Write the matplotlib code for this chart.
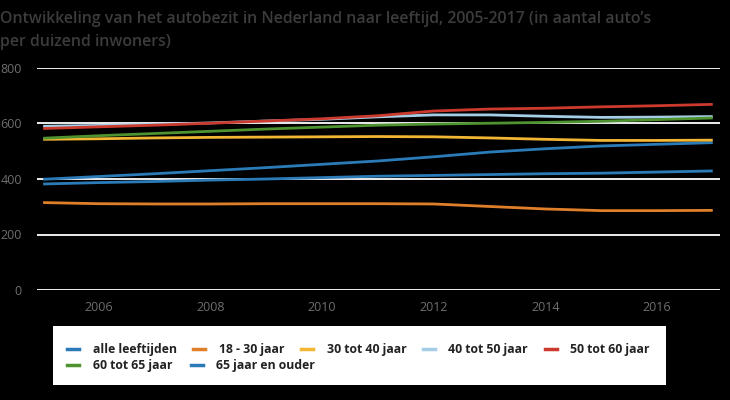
import matplotlib
matplotlib.use("Agg")
import matplotlib.pyplot as plt
from matplotlib.lines import Line2D
from matplotlib.patches import Rectangle

plt.rcParams['font.family'] = ['Open Sans', 'DejaVu Sans']

years = list(range(2005, 2018))
alle = [399, 409, 419, 430, 441, 453, 465, 480, 497, 509, 519, 525, 531]
j18_30 = [315, 311, 310, 310, 311, 311, 311, 310, 301, 292, 286, 286, 287]
j30_40 = [543, 545, 548, 550, 551, 552, 553, 552, 548, 543, 539, 539, 540]
j40_50 = [590, 593, 597, 602, 609, 615, 624, 631, 631, 626, 622, 623, 625]
j50_60 = [582, 588, 594, 601, 609, 617, 628, 645, 652, 655, 660, 664, 669]
j60_65 = [547, 556, 564, 572, 580, 587, 594, 598, 601, 604, 608, 614, 620]
j65plus = [382, 387, 391, 396, 400, 405, 410, 413, 416, 419, 421, 425, 429]

labels = ['alle leeftijden', '18 - 30 jaar', '30 tot 40 jaar', '40 tot 50 jaar',
          '50 tot 60 jaar', '60 tot 65 jaar', '65 jaar en ouder']
colors = ['#2b7bb9', '#e07f2a', '#f2b632', '#a6cde6', '#cc3a2e', '#4e9330', '#2b7bb9']
series = [alle, j18_30, j30_40, j40_50, j50_60, j60_65, j65plus]

fig = plt.figure(figsize=(7.3, 4.0), dpi=100, facecolor='black')
ax = fig.add_axes([37 / 730, 1 - 290 / 400, (720 - 37) / 730, (290 - 68) / 400])
ax.set_facecolor('black')

for vals, col in zip(series, colors):
    ax.plot(years, vals, color=col, lw=2, solid_capstyle='butt', zorder=3)

ax.set_xlim(2004.89, 2017.13)
ax.set_ylim(0, 800)
ax.set_yticks([0, 200, 400, 600, 800])
ax.set_xticks([2006, 2008, 2010, 2012, 2014, 2016])
ax.grid(axis='y', color='white', lw=1.3, zorder=1)
ax.grid(axis='x', visible=False)
for s in ax.spines.values():
    s.set_visible(False)
ax.tick_params(axis='both', length=0, colors='#6e6e6e', labelsize=9)
ax.tick_params(axis='y', pad=11)
ax.tick_params(axis='x', pad=8)

fig.text(0.0, 1 - 19 / 400, "Ontwikkeling van het autobezit in Nederland naar leeftijd, 2005-2017 (in aantal auto\u2019s",
         color='#3c3c3c', fontsize=11.4, fontweight='semibold', va='center', ha='left')
fig.text(0.0, 1 - 42 / 400, "per duizend inwoners)",
         color='#3c3c3c', fontsize=11.4, fontweight='semibold', va='center', ha='left')

# legend box
fig.patches.append(Rectangle((53 / 730, 1 - 385 / 400), (666 - 53) / 730, (385 - 326) / 400,
                             transform=fig.transFigure, facecolor='white', edgecolor='none', zorder=0))

handles = [Line2D([], [], color=c, lw=2.5) for c in colors]
leg_kw = dict(frameon=False, handlelength=1.0, handletextpad=1.1,
              borderpad=0, borderaxespad=0, prop={'weight': 'bold', 'size': 8.8})
l1 = fig.legend(handles[:5], labels[:5], ncol=5, loc='center left',
                bbox_to_anchor=(67 / 730, 1 - 350 / 400), columnspacing=1.35, **leg_kw)
for t in l1.get_texts():
    t.set_color('#222222')
l2 = fig.legend(handles[5:], labels[5:], ncol=2, loc='center left',
                bbox_to_anchor=(67 / 730, 1 - 366 / 400), columnspacing=1.5, **leg_kw)
for t in l2.get_texts():
    t.set_color('#222222')

fig.savefig('out.png', dpi=100, facecolor='black')
